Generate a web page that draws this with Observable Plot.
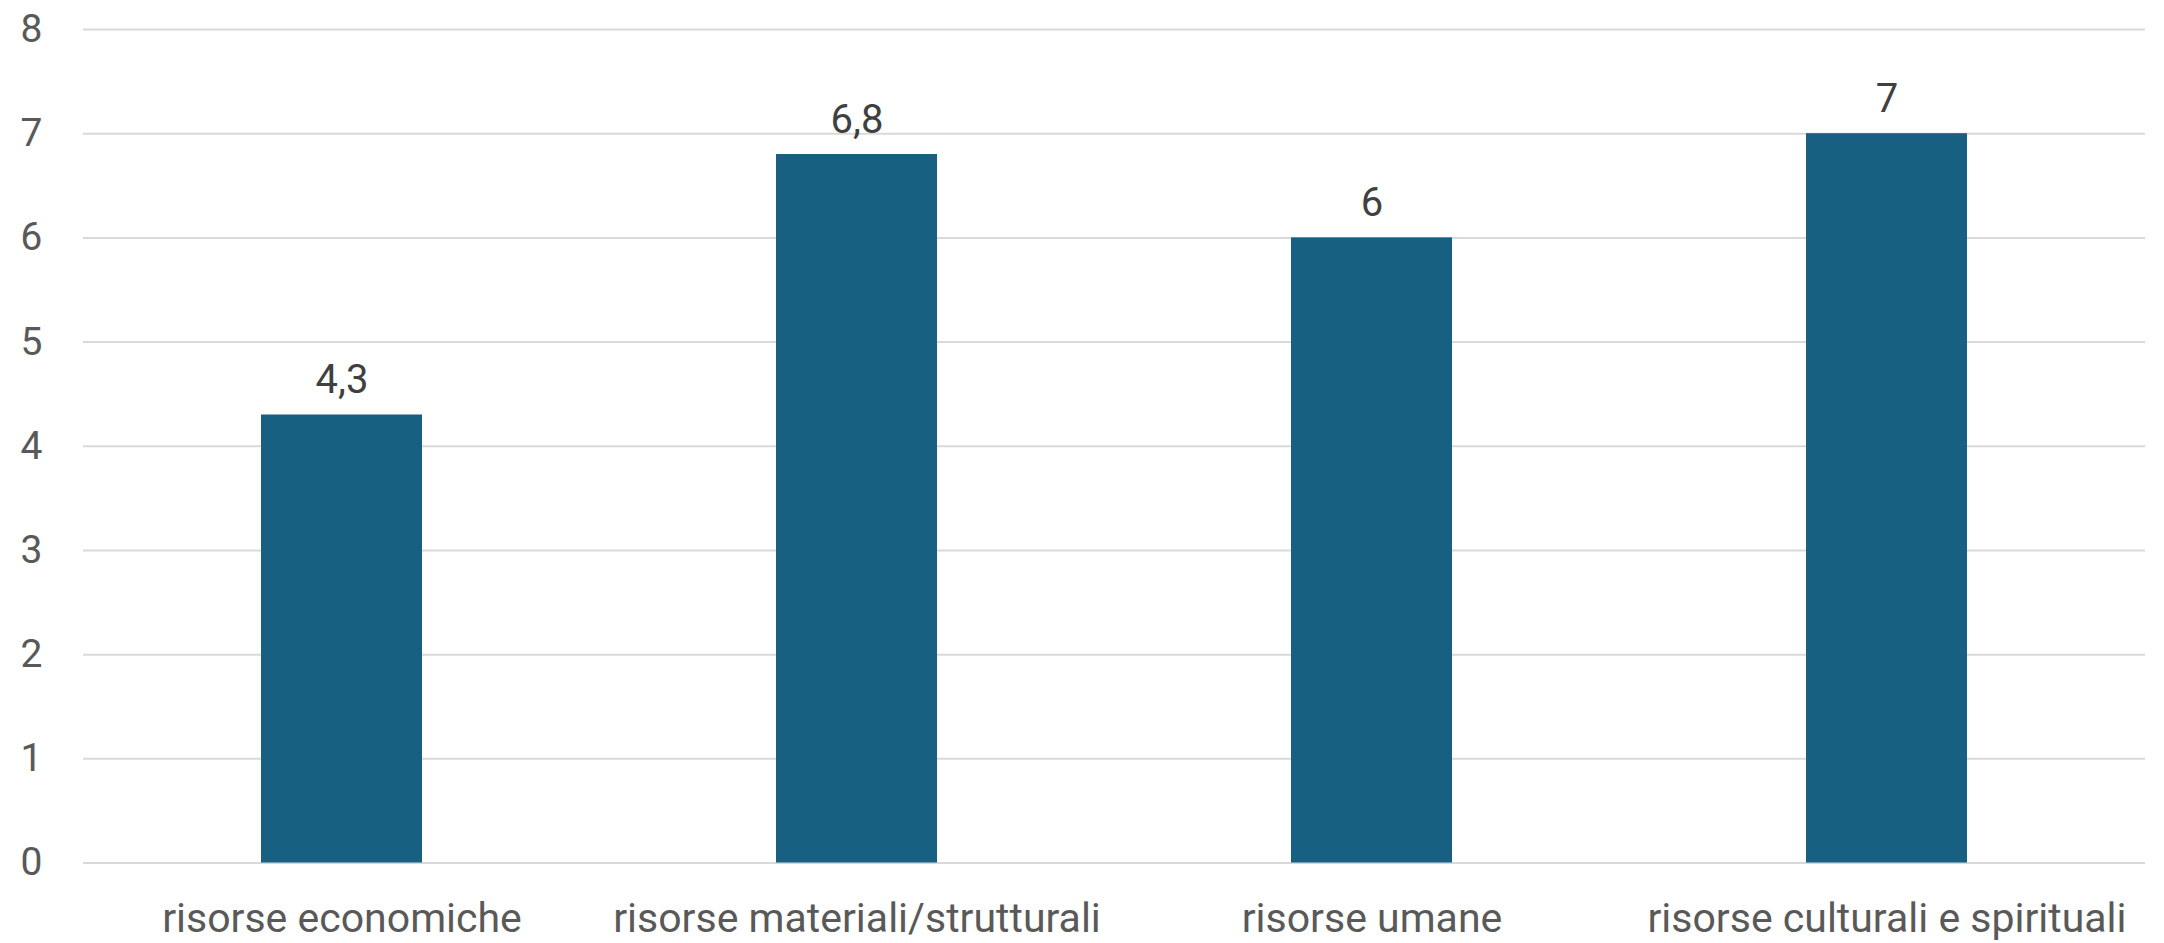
<!DOCTYPE html>
<html>
<head>
<meta charset="utf-8">
<script src="https://cdn.jsdelivr.net/npm/d3@7"></script>
<script src="https://cdn.jsdelivr.net/npm/@observablehq/plot@0.6"></script>
<style>
  html, body { margin: 0; padding: 0; background: #fff; }
  #chart svg { display: block; }
</style>
</head>
<body>
<div id="chart"></div>
<script>
const categories = ["risorse economiche", "risorse materiali/strutturali", "risorse umane", "risorse culturali e spirituali"];
const values = [4.3, 6.8, 6, 7];
const yTicks = [0, 1, 2, 3, 4, 5, 6, 7, 8];

const data = categories.map((c, i) => ({category: c, value: values[i]}));
const fmt = v => String(v).replace(".", ",");

const chart = Plot.plot({
  width: 2164,
  height: 943,
  marginTop: 29,
  marginBottom: 80.5,
  marginLeft: 83,
  marginRight: 19,
  style: {fontFamily: "Roboto", background: "#fff"},
  x: {domain: categories, paddingInner: 0.687, paddingOuter: 0.3435, label: null},
  y: {domain: [0, 8], ticks: yTicks, label: null},
  marks: [
    Plot.gridY(yTicks, {stroke: "#d9d9d9", strokeOpacity: 1, strokeWidth: 2}),
    Plot.barY(data, {x: "category", y: "value", fill: "#176082"}),
    Plot.text(data, {x: "category", y: "value", text: d => fmt(d.value), dy: -22, lineAnchor: "bottom", fontSize: 40, fill: "#404040"}),
    Plot.axisY(yTicks, {tickSize: 0, tickPadding: 41, fontSize: 39, color: "#595959", tickFormat: d => String(d), label: null}),
    Plot.axisX({tickSize: 0, tickPadding: 40, fontSize: 41, color: "#595959", label: null})
  ]
});
document.getElementById("chart").appendChild(chart);
</script>
</body>
</html>
